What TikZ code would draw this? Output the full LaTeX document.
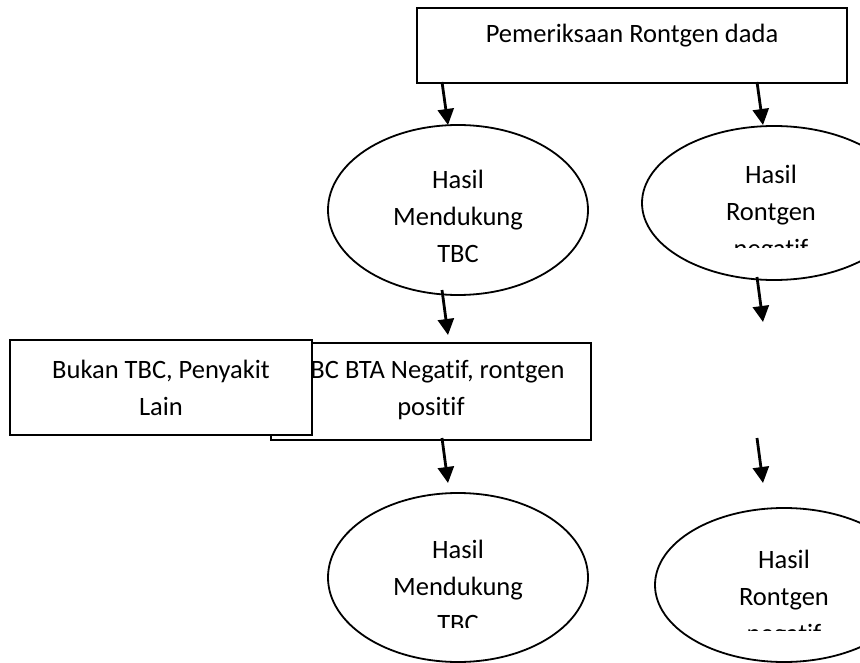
\documentclass[tikz,border=0pt]{standalone}
\usepackage{fontspec}
\setmainfont{Carlito}[Ligatures=NoCommon,RawFeature={-liga;-calt;-dlig}]
\usetikzlibrary{shapes.geometric,arrows.meta}
\newcommand{\nolig}{\kern0pt\relax}
\begin{document}
\begin{tikzpicture}[x=1pt,y=-1pt,
  box/.style={draw,line width=1.8pt,fill=white,inner sep=0pt},
  oval/.style={draw,ellipse,line width=1.8pt,inner sep=0pt},
  lbl/.style={anchor=base,inner sep=0pt,font=\fontsize{26.5}{37}\selectfont},
  arr/.style={line width=2.8pt,-{Triangle[width=16pt,length=16pt]}}]
\clip (0,0) rectangle (860,663);
\fill[white] (0,0) rectangle (860,663);
% top box
\node[box,minimum width=430pt,minimum height=75pt] (top) at (632,45.5) {};
\node[lbl] (toptxt) at (632,43) {Pemeriksaan Rontgen dada};
% ellipses
\node[oval,minimum width=260pt,minimum height=170pt] (e1) at (458,210) {};
\node[oval,minimum width=264pt,minimum height=154pt] (e2) at (774,203) {};
\node[oval,minimum width=260pt,minimum height=169pt] (e3) at (458,577.5) {};
\node[oval,minimum width=258pt,minimum height=154pt] (e4) at (784,585) {};
\begin{scope}
\clip (330,130) rectangle (586,266);
\node[lbl] (e1a) at (458,189) {Hasil};
\node[lbl] (e1b) at (458,226) {Mendukung};
\node[lbl] (e1c) at (458,263) {TBC};
\end{scope}
\begin{scope}
\clip (650,130) rectangle (860,247.5);
\node[lbl] (e2a) at (771,184) {Hasil};
\node[lbl] (e2b) at (771,221) {Rontgen};
\node[lbl] (e2c) at (771,258) {negat\nolig if};
\end{scope}
\begin{scope}
\clip (330,500) rectangle (586,627);
\node[lbl] (e3a) at (458,558) {Hasil};
\node[lbl] (e3b) at (458,595) {Mendukung};
\node[lbl] (e3c) at (458,632) {TBC};
\end{scope}
\begin{scope}
\clip (660,510) rectangle (860,630.5);
\node[lbl] (e4a) at (784,568) {Hasil};
\node[lbl] (e4b) at (784,605) {Rontgen};
\node[lbl] (e4c) at (784,642) {negat\nolig if};
\end{scope}
% back box
\node[box,minimum width=320pt,minimum height=97pt] (back) at (431,391.5) {};
\node[lbl] (backa) at (431,378) {TBC BTA Negat\nolig if, rontgen};
\node[lbl] (backb) at (431,415) {posit\nolig if};
% front box
\node[box,minimum width=302pt,minimum height=95pt] (front) at (161,387.5) {};
\node[lbl] (fronta) at (161,378) {Bukan TBC, Penyakit};
\node[lbl] (frontb) at (161,415) {Lain};
% arrow coordinates
\coordinate (a1s) at (442,82);  \coordinate (a1e) at (448,125);
\coordinate (a2s) at (757,82);  \coordinate (a2e) at (763,125);
\coordinate (a3s) at (442,290); \coordinate (a3e) at (448,335);
\coordinate (a4s) at (757,277); \coordinate (a4e) at (763,322);
\coordinate (a5s) at (442,438); \coordinate (a5e) at (448,483);
\coordinate (a6s) at (757,438); \coordinate (a6e) at (763,483);
\draw[arr] (a1s) -- (a1e);
\draw[arr] (a2s) -- (a2e);
\draw[arr] (a3s) -- (a3e);
\draw[arr] (a4s) -- (a4e);
\draw[arr] (a5s) -- (a5e);
\draw[arr] (a6s) -- (a6e);
\end{tikzpicture}
\end{document}
